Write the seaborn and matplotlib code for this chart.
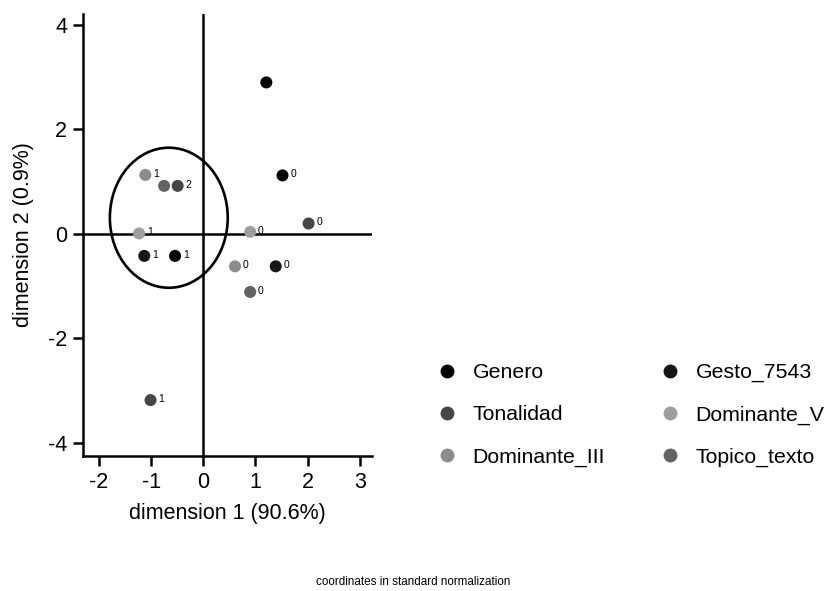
import matplotlib
matplotlib.use("Agg")
import matplotlib.pyplot as plt
from matplotlib.patches import Ellipse
import pandas as pd
import seaborn as sns

# category coordinates
variables = ['Genero', 'Genero', 'Genero',
             'Gesto_7543', 'Gesto_7543',
             'Tonalidad', 'Tonalidad', 'Tonalidad',
             'Topico_texto', 'Topico_texto',
             'Dominante_III', 'Dominante_III',
             'Dominante_V', 'Dominante_V']
dim1 = [1.52, -0.54, 1.21,
        1.39, -1.13,
        2.02, -0.49, -1.01,
        0.90, -0.75,
        0.61, -1.11,
        0.90, -1.23]
dim2 = [1.12, -0.42, 2.90,
        -0.62, -0.42,
        0.20, 0.92, -3.18,
        -1.11, 0.92,
        -0.62, 1.13,
        0.04, 0.01]
levels = ['0', '1', '',
          '0', '1',
          '0', '2', '1',
          '0', '',
          '0', '1',
          '0', '1']

legend_order = ['Genero', 'Tonalidad', 'Dominante_III',
                'Gesto_7543', 'Dominante_V', 'Topico_texto']
grey_shades = ['#000000', '#464646', '#8c8c8c', '#161616', '#9e9e9e', '#636363']

# confidence ellipse (centre, width, height)
ell_center = (-0.66, 0.31)
ell_width = 2.26
ell_height = 2.68

df = pd.DataFrame({'dim1': dim1, 'dim2': dim2, 'variable': variables, 'level': levels})

sns.set_style('ticks', {'axes.edgecolor': 'black', 'text.color': 'black',
                        'axes.labelcolor': 'black', 'xtick.color': 'black',
                        'ytick.color': 'black'})
plt.rcParams['font.family'] = ['Liberation Sans', 'DejaVu Sans']
plt.rcParams['axes.unicode_minus'] = False

fig = plt.figure(figsize=(8.26, 5.91), dpi=100)
ax = fig.add_axes([0.1008, 0.2284, 0.3492, 0.748])

ax.axhline(0, color='black', lw=1.8, zorder=1)
ax.axvline(0, color='black', lw=1.8, zorder=1)

sns.scatterplot(data=df, x='dim1', y='dim2', hue='variable', hue_order=legend_order,
                palette=dict(zip(legend_order, grey_shades)), s=75, edgecolor='none',
                ax=ax, zorder=3, legend=False)

for _, row in df.iterrows():
    if row['level']:
        ax.text(row['dim1'] + 0.15, row['dim2'] + 0.02, row['level'], fontsize=7.5,
                va='center', ha='left', zorder=4)

ax.add_patch(Ellipse(ell_center, ell_width, ell_height, fill=False,
                     edgecolor='black', lw=1.9, zorder=2))

ax.set_xlim(-2.30, 3.23)
ax.set_ylim(-4.25, 4.21)
ax.set_xticks([-2, -1, 0, 1, 2, 3])
ax.set_yticks([-4, -2, 0, 2, 4])
ax.set_xlabel('dimension 1 (90.6%)', fontsize=15.5, labelpad=7)
ax.set_ylabel('dimension 2 (0.9%)', fontsize=15.5, labelpad=10)
ax.tick_params(labelsize=15.5, width=1.8, length=7, direction='out', pad=4.5)
sns.despine(ax=ax)
for side in ['left', 'bottom']:
    ax.spines[side].set_linewidth(1.8)

handles = [plt.Line2D([], [], marker='o', ls='', markersize=10, color=c,
                      markeredgecolor='none') for c in grey_shades]
fig.legend(handles, legend_order, ncol=2, loc='upper left', bbox_to_anchor=(0.505, 0.418),
           frameon=False, fontsize=15.3, handletextpad=0.7, columnspacing=2.57,
           labelspacing=1.09, handlelength=1.0)

fig.text(0.5, 1 - 582 / 591, 'coordinates in standard normalization', fontsize=8.4,
         ha='center', va='center')

fig.savefig('out.png', dpi=100)
